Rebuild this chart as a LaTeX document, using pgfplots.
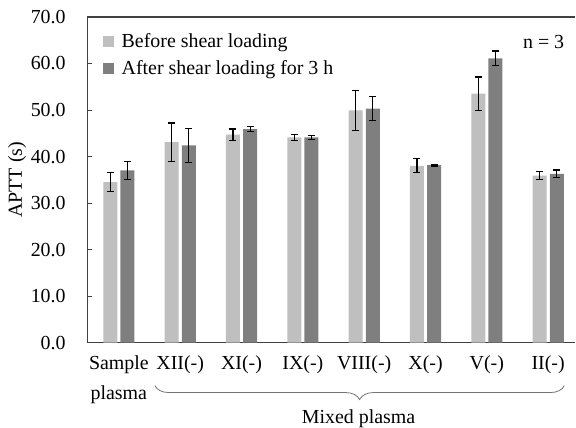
\documentclass[border=0pt]{standalone}
\usepackage{fontspec}
\setmainfont{Liberation Serif}
\usepackage{pgfplots}
\pgfplotsset{compat=1.18}
\usepackage{pgfplotstable}
\usetikzlibrary{calc,decorations.pathreplacing}
\definecolor{lightbar}{HTML}{BFBFBF}
\definecolor{darkbar}{HTML}{7F7F7F}
\definecolor{spine}{HTML}{404040}

\pgfplotstableread{
x b be a ae
0 34.5 2.1 37.0 2.0
1 43.1 4.1 42.4 3.7
2 44.7 1.2 45.9 0.6
3 44.1 0.65 44.1 0.5
4 49.9 4.3 50.3 2.6
5 38.0 1.5 38.15 0.2
6 53.5 3.6 61.1 1.6
7 35.9 0.9 36.3 0.8
}\data

\begin{document}
\fontsize{20}{29}\selectfont
\begin{tikzpicture}
\begin{axis}[
 name=ax,
 scale only axis,
 width=488.5bp, height=326bp,
 xmin=-0.513, xmax=7.443,
 ymin=0, ymax=70,
 axis y line*=left,
 axis line style={spine, line width=1.3bp},
 ytick={0,10,...,70},
 xtick={0,...,7},
 xticklabels={{Sample\\[1.5bp]plasma},XII(-),XI(-),IX(-),VIII(-),X(-),V(-),II(-)},
 xticklabel style={align=center, yshift=-6bp},
 x tick style={draw=none},
 major tick length=5bp,
 tick align=inside,
 y tick style={spine, line width=1bp},
 yticklabel style={xshift=-15bp, /pgf/number format/.cd, fixed, fixed zerofill, precision=1},
 /pgf/number format/assume math mode=true,
 ylabel={APTT (s)},
 ylabel style={at={(axis description cs:-0.144,0.5)}, anchor=center},
 legend style={at={(axis description cs:0.031,0.957)}, anchor=north west, draw=none, fill=none, inner sep=0pt, row sep=6bp, column sep=6bp, nodes={inner sep=2bp}},
 legend cell align=left,
]
\addplot[ybar, bar width=0.228, bar shift=0, fill=lightbar, draw=none,
  legend image code/.code={\fill[lightbar] (0bp,-5.5bp) rectangle (11bp,5.5bp);},
  error bars/.cd, y dir=both, y explicit, error bar style={black, line width=1.2bp},
  error mark options={rotate=90, black, line width=1.2bp, mark size=3.5bp}]
  table[x expr=\thisrow{x}-0.14, y=b, y error=be] {\data};
\addlegendentry{Before shear loading}
\addplot[ybar, bar width=0.228, bar shift=0, fill=darkbar, draw=none,
  legend image code/.code={\fill[darkbar] (0bp,-5.5bp) rectangle (11bp,5.5bp);},
  error bars/.cd, y dir=both, y explicit, error bar style={black, line width=1.2bp},
  error mark options={rotate=90, black, line width=1.2bp, mark size=3.5bp}]
  table[x expr=\thisrow{x}+0.14, y=a, y error=ae] {\data};
\addlegendentry{After shear loading for 3 h}
\end{axis}
\draw[black!55, line width=0.8bp, decorate, decoration={brace, mirror, amplitude=14bp}]
  ([shift={(67.5bp,-43bp)}]ax.south west) -- ([shift={(477.5bp,-43bp)}]ax.south west);
\node[anchor=base, inner sep=0pt] at ([shift={(271.5bp,-81bp)}]ax.south west) {Mixed plasma};
\node[anchor=base east, inner sep=0pt] at ([shift={(477.5bp,294bp)}]ax.south west) {n = 3};
\path[use as bounding box] ([shift={(-87.5bp,-85bp)}]ax.south west) rectangle ([shift={(0bp,17bp)}]ax.north east);
\end{tikzpicture}
\end{document}
